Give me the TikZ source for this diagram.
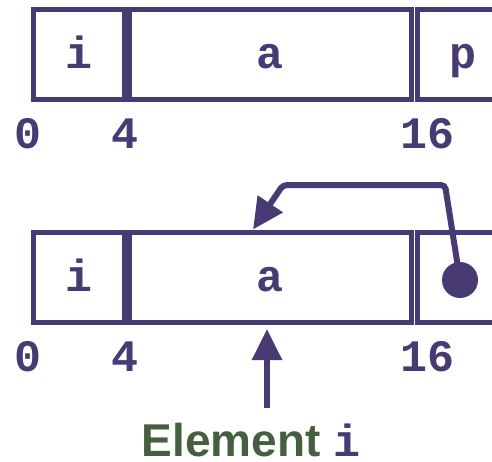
\documentclass[tikz,border=0pt]{standalone}
\usepackage{fontspec}
\setmainfont{Liberation Sans}
\setmonofont{Liberation Mono}
\usetikzlibrary{arrows.meta}
\definecolor{pur}{RGB}{72,58,115}
\definecolor{grn}{RGB}{70,95,65}
\begin{document}
\begin{tikzpicture}[x=1pt,y=-1pt,
 cell/.style={draw=pur,line width=5pt,minimum height=90pt,inner sep=0pt,
   font=\ttfamily\bfseries\fontsize{45}{45}\selectfont,text=pur,text height=28pt,text depth=0pt},
 off/.style={font=\ttfamily\bfseries\fontsize{45}{45}\selectfont,text=pur,inner sep=0pt,anchor=base},
 ptr/.style={draw=pur,line width=6pt,-{Triangle[length=31pt,width=29pt]}}]
\useasboundingbox (0,0) rectangle (492,461);
\clip (0,0) rectangle (492,461);
% top row
\node[cell,minimum width=90.5pt] (i1) at (78.75,54) {i};
\node[cell,minimum width=282.5pt] (a1) at (270.25,54) {a};
\node[cell,minimum width=92pt] (p1) at (463,54) {p};
\node[off] (o10) at (28,148) {0};
\node[off] (o14) at (125,148) {4};
\node[off] (o116) at (427,148) {16};
% bottom row
\node[cell,minimum width=90.5pt] (i2) at (78.75,277) {i};
\node[cell,minimum width=282.5pt] (a2) at (270.25,277) {a};
\node[cell,minimum width=92pt] (p2) at (463,277) {};
\node[off] (o20) at (28,371) {0};
\node[off] (o24) at (125,371) {4};
\node[off] (o216) at (427,371) {16};
% pointer
\coordinate (dot) at (460,280);
\coordinate (c1) at (445,185);
\coordinate (c2) at (283,185);
\coordinate (tip) at (253,229.5);
\draw[ptr,rounded corners=4pt] (dot) -- (c1) -- (c2) -- (tip);
\fill[pur] (dot) circle (18pt);
% element label
\node[anchor=base,inner sep=0pt,text depth=0pt,font=\bfseries\fontsize{46}{46}\selectfont,text=grn] (elem) at (251,456)
  {Element {\ttfamily\fontsize{45}{45}\selectfont\color{pur}i}};
\coordinate (base) at (267,408);
\draw[ptr] (base) -- ([yshift=-4.5pt]base |- a2.south);
\end{tikzpicture}
\end{document}
